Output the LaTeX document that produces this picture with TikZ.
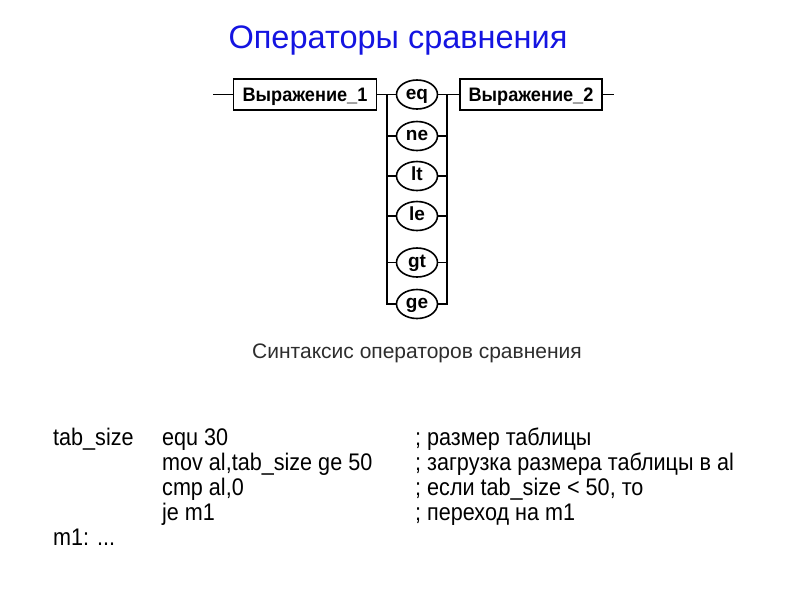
\documentclass[tikz,border=0pt]{standalone}
\usepackage{fontspec}
\usetikzlibrary{shapes.geometric}
\setmainfont{Liberation Sans}
\definecolor{titleblue}{RGB}{20,20,225}
\definecolor{capgrey}{RGB}{45,45,45}
\newcommand{\codetxt}[1]{\scalebox{0.9}[1]{#1}}
\newcommand{\boxtxt}[1]{\scalebox{0.93}[1]{#1}}
\begin{document}
\begin{tikzpicture}[x=1pt,y=-1pt,
  line/.style={line width=1.6pt,black},
  exprbox/.style={draw,line width=1.6pt,minimum width=143pt,minimum height=31pt,inner sep=0pt,text height=14pt,text depth=0pt,font=\fontsize{19.5}{19.5}\selectfont\bfseries},
  opnode/.style={draw,ellipse,line width=1.6pt,minimum width=41pt,minimum height=29pt,inner sep=0pt,text height=9.9pt,text depth=0pt,font=\fontsize{19}{19}\selectfont\bfseries},
  code/.style={anchor=base west,inner sep=0pt,font=\fontsize{24}{24}\selectfont},
]
\useasboundingbox (0,0) rectangle (800,600);
\node[titleblue,anchor=base,inner sep=0pt,font=\fontsize{32.5}{32.5}\selectfont] (title) at (398,48) {Операторы сравнения};

\node[exprbox] (e1) at (305,94.5) {\boxtxt{Выражение\_1}};
\node[exprbox,minimum width=142pt] (e2) at (531,94.5) {\boxtxt{Выражение\_2}};
\coordinate (lin) at (213,94.5);
\coordinate (lout) at (614,94.5);

\foreach \n/\y in {eq/94.5, ne/136, lt/176, le/216, gt/262.5, ge/304}{
  \node[opnode] (\n) at (417,\y) {\n};
}
\coordinate (tl) at (387,94.5);
\coordinate (tr) at (447,94.5);

\draw[line] (lin) -- (e1.west);
\draw[line] (e1.east) -- (eq.west);
\draw[line] (eq.east) -- (e2.west);
\draw[line] (e2.east) -- (lout);
\draw[line] (tl) -- (tl |- ge.west) -- (ge.west);
\draw[line] (tr) -- (tr |- ge.east) -- (ge.east);
\foreach \n in {ne,lt,le,gt}{
  \draw[line] (\n.west) -- (\n.west -| tl);
  \draw[line] (\n.east) -- (\n.east -| tr);
}

\node[capgrey,anchor=base,inner sep=0pt,font=\fontsize{21}{21}\selectfont] (cap) at (417,358) {Синтаксис операторов сравнения};

\node[code] (c1a) at (53,445) {\codetxt{tab\_size}};
\node[code] (c1b) at (162,445) {\codetxt{equ 30}};
\node[code] (c1c) at (415,445) {\codetxt{; размер таблицы}};
\node[code] (c2b) at (162,470) {\codetxt{mov al,tab\_size ge 50}};
\node[code] (c2c) at (415,470) {\codetxt{; загрузка размера таблицы в al}};
\node[code] (c3b) at (162,495) {\codetxt{cmp al,0}};
\node[code] (c3c) at (415,495) {\codetxt{; если tab\_size < 50, то}};
\node[code] (c4b) at (162,520) {\codetxt{je m1}};
\node[code] (c4c) at (415,520) {\codetxt{; переход на m1}};
\node[code] (c5a) at (53,545) {\codetxt{m1: ...}};
\end{tikzpicture}
\end{document}
